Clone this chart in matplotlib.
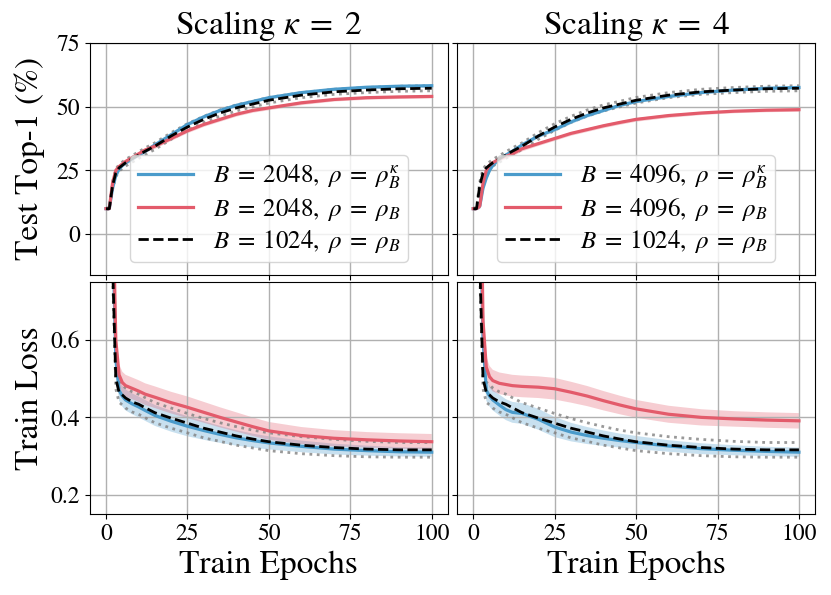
import numpy as np
import matplotlib
matplotlib.use("Agg")
import matplotlib.pyplot as plt

plt.rcParams['font.family'] = ['STIXGeneral', 'DejaVu Serif']
plt.rcParams['mathtext.fontset'] = 'stix'

epochs = [0, 1, 2, 3, 4, 5, 6, 8, 10, 12, 15, 20, 25, 30, 35, 40, 45, 50, 60, 70, 80, 90, 100]

# test top-1 accuracy (%)
acc_k2_blue = [10, 10, 18, 23, 25.5, 27, 28, 29.5, 31, 32.5, 35, 39, 43, 46, 48.5, 50.5, 52, 53.5, 55.5, 56.8, 57.6, 58, 58.2]
acc_k2_red = [10, 10, 20, 25, 26.5, 27.5, 28.5, 30, 31.5, 33, 34.5, 37.5, 40.5, 43, 45, 47, 48.5, 49.5, 51.5, 52.8, 53.5, 53.8, 54]
acc_k4_blue = [10, 10, 11, 18, 22, 25, 27, 29.5, 31, 32.5, 35, 38.5, 41, 44, 46.5, 48.5, 50.5, 52, 54, 55.5, 56.5, 57.2, 57.5]
acc_k4_red = [10, 10, 11, 20, 25, 27, 28, 29.5, 30.5, 31.5, 33.5, 35.5, 37.5, 39.5, 41, 42.5, 43.8, 45, 46.5, 47.5, 48.2, 48.6, 48.8]
acc_base = [10, 10, 19, 24, 26, 27, 28, 29.5, 31, 32.5, 34.5, 38.5, 42, 45, 47.5, 49.5, 51, 52.5, 54.5, 55.8, 56.5, 57, 57.2]
acc_std_blue = [0.3, 0.3, 0.8, 0.8, 0.7, 0.7, 0.7, 0.7, 0.7, 0.7, 0.6, 0.6, 0.6, 0.6, 0.6, 0.5, 0.5, 0.5, 0.5, 0.5, 0.5, 0.5, 0.5]
acc_std_red = [0.3, 0.3, 0.9, 0.9, 0.8, 0.8, 0.8, 0.8, 0.8, 0.8, 0.8, 0.7, 0.7, 0.7, 0.7, 0.7, 0.7, 0.7, 0.7, 0.6, 0.6, 0.6, 0.6]
acc_std_base = [0.3, 0.3, 1.5, 1.5, 1.3, 1.3, 1.3, 1.3, 1.3, 1.3, 1.3, 1.3, 1.3, 1.2, 1.2, 1.2, 1.1, 1.1, 1.0, 1.0, 1.0, 1.0, 1.0]

# train loss
loss_k2_blue = [2.3, 1.6, 0.9, 0.55, 0.47, 0.455, 0.445, 0.435, 0.427, 0.418, 0.405, 0.39, 0.377, 0.366, 0.356, 0.347, 0.34, 0.334, 0.325, 0.318, 0.314, 0.311, 0.31]
loss_k2_red = [2.3, 1.7, 1.0, 0.6, 0.51, 0.49, 0.482, 0.475, 0.468, 0.46, 0.452, 0.438, 0.426, 0.413, 0.4, 0.388, 0.376, 0.365, 0.353, 0.346, 0.342, 0.339, 0.337]
loss_k4_blue = [2.3, 1.6, 1.0, 0.6, 0.47, 0.455, 0.445, 0.432, 0.42, 0.413, 0.41, 0.395, 0.375, 0.362, 0.353, 0.346, 0.34, 0.335, 0.326, 0.319, 0.315, 0.312, 0.31]
loss_k4_red = [2.3, 1.8, 1.2, 0.65, 0.53, 0.505, 0.495, 0.488, 0.485, 0.482, 0.48, 0.478, 0.474, 0.465, 0.455, 0.443, 0.432, 0.422, 0.408, 0.4, 0.396, 0.393, 0.391]
loss_base = [2.3, 1.5, 0.8, 0.5, 0.465, 0.458, 0.45, 0.44, 0.434, 0.425, 0.412, 0.398, 0.385, 0.372, 0.362, 0.352, 0.344, 0.337, 0.328, 0.322, 0.318, 0.316, 0.316]
loss_std_blue = [0.05, 0.04, 0.03, 0.027, 0.027, 0.027, 0.027, 0.027, 0.027, 0.027, 0.027, 0.027, 0.026, 0.024, 0.022, 0.02, 0.018, 0.017, 0.015, 0.014, 0.013, 0.012, 0.012]
loss_std_red = [0.05, 0.04, 0.03, 0.03, 0.028, 0.028, 0.028, 0.028, 0.028, 0.028, 0.028, 0.028, 0.028, 0.027, 0.026, 0.025, 0.024, 0.023, 0.022, 0.021, 0.02, 0.02, 0.02]
loss_std_base = [0.05, 0.04, 0.03, 0.026, 0.026, 0.026, 0.026, 0.026, 0.026, 0.026, 0.026, 0.026, 0.025, 0.025, 0.024, 0.024, 0.023, 0.023, 0.022, 0.021, 0.02, 0.019, 0.019]

titles = [r'Scaling $\kappa\;=\;2$', r'Scaling $\kappa\;=\;4$']
big_b = [2048, 4096]

BLUE = '#4a9bcb'
RED = '#e35b6b'

x = np.array(epochs)

fig, axes = plt.subplots(2, 2, figsize=(8.31, 5.95), dpi=100, sharex=True, sharey='row')
fig.subplots_adjust(left=0.108, right=0.981, top=0.928, bottom=0.136, wspace=0.025, hspace=0.03)

acc_runs = [(acc_k2_blue, acc_k2_red), (acc_k4_blue, acc_k4_red)]
loss_runs = [(loss_k2_blue, loss_k2_red), (loss_k4_blue, loss_k4_red)]

for col in range(2):
    for row, (runs, base, stds) in enumerate([
            (acc_runs[col], acc_base, (acc_std_blue, acc_std_red, acc_std_base)),
            (loss_runs[col], loss_base, (loss_std_blue, loss_std_red, loss_std_base))]):
        ax = axes[row, col]
        blue = np.array(runs[0]); red = np.array(runs[1]); blk = np.array(base)
        sb, sr, sk = [np.array(s) for s in stds]
        ax.fill_between(x, blue - sb, blue + sb, color=BLUE, alpha=0.3, lw=0)
        ax.fill_between(x, red - sr, red + sr, color=RED, alpha=0.3, lw=0)
        ax.plot(x, blk - sk, ':', color='gray', lw=2, alpha=0.8)
        ax.plot(x, blk + sk, ':', color='gray', lw=2, alpha=0.8)
        ax.plot(x, blue, color=BLUE, lw=2.3,
                label=r'$B\;=\;%d,\ \rho\;=\;\rho_B^\kappa$' % big_b[col])
        ax.plot(x, red, color=RED, lw=2.3,
                label=r'$B\;=\;%d,\ \rho\;=\;\rho_B$' % big_b[col])
        ax.plot(x, blk, '--', color='black', lw=2,
                label=r'$B\;=\;1024,\ \rho\;=\;\rho_B$')
        ax.grid(True, color='#b0b0b0', lw=1)
        ax.tick_params(labelsize=17)
    axes[0, col].set_title(titles[col], fontsize=24)
    axes[0, col].legend(loc='lower center', fontsize=18, handlelength=2.2,
                        borderpad=0.3, labelspacing=0.2, handletextpad=0.8)
    axes[1, col].set_xlabel('Train Epochs', fontsize=24)

axes[0, 0].set_ylim(-16, 75)
axes[0, 0].set_yticks([0, 25, 50, 75])
axes[1, 0].set_ylim(0.15, 0.75)
axes[1, 0].set_yticks([0.2, 0.4, 0.6])
axes[1, 0].set_xticks([0, 25, 50, 75, 100])
axes[0, 0].set_ylabel('Test Top-1 (%)', fontsize=24)
axes[1, 0].set_ylabel('Train Loss', fontsize=24)
fig.align_ylabels(axes[:, 0])

fig.savefig('out.png', dpi=100)
